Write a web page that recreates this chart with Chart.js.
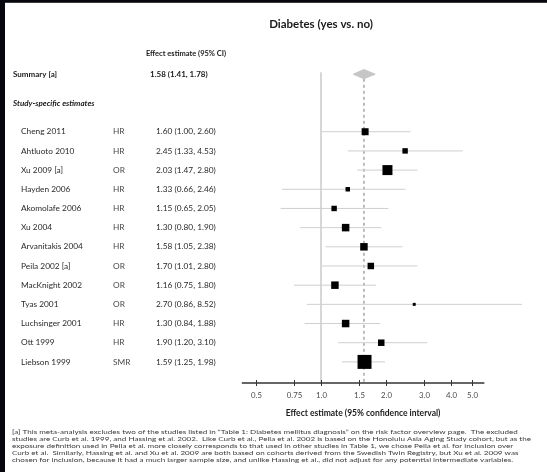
<!DOCTYPE html>
<html>
<head>
<meta charset="utf-8">
<script src="https://cdn.jsdelivr.net/npm/chart.js@4.4.1/dist/chart.umd.min.js"></script>
<style>
  html, body { margin: 0; padding: 0; background: #fff; }
  #forest { display: block; }
</style>
</head>
<body>
<canvas id="forest" width="547" height="472"></canvas>
<script>
// study rows, top to bottom
const studies = ['Cheng 2011', 'Ahtluoto 2010', 'Xu 2009 [a]', 'Hayden 2006', 'Akomolafe 2006', 'Xu 2004',
    'Arvanitakis 2004', 'Peila 2002 [a]', 'MacKnight 2002', 'Tyas 2001', 'Luchsinger 2001', 'Ott 1999', 'Liebson 1999'];
const measures = ['HR', 'HR', 'OR', 'HR', 'HR', 'HR', 'HR', 'OR', 'OR', 'OR', 'HR', 'HR', 'SMR'];
const estimates = [1.60, 2.45, 2.03, 1.33, 1.15, 1.30, 1.58, 1.70, 1.16, 2.70, 1.30, 1.90, 1.59];
const lowerCI = [1.00, 1.33, 1.47, 0.66, 0.65, 0.80, 1.05, 1.01, 0.75, 0.86, 0.84, 1.20, 1.25];
const upperCI = [2.60, 4.53, 2.80, 2.46, 2.05, 1.90, 2.38, 2.80, 1.80, 8.52, 1.88, 3.10, 1.98];
// relative study weights (%)
const weights = [6.6, 4.0, 13.5, 2.7, 4.0, 7.6, 7.6, 5.7, 7.6, 1.2, 7.6, 5.7, 26.4];

const summaryEstimate = 1.58;
const summaryLower = 1.41;
const summaryUpper = 1.78;

const tickValues = [0.5, 0.75, 1.0, 1.5, 2.0, 3.0, 4.0, 5.0];
const tickLabels = ['0.5', '0.75', '1.0', '1.5', '2.0', '3.0', '4.0', '5.0'];
const axisRange = [0.43, 5.7];

const footnote = [
    '[a] This meta-analysis excludes two of the studies listed in \u201cTable 1: Diabetes mellitus diagnosis\u201d on the risk factor overview page.  The excluded',
    'studies are Curb et al. 1999, and Hassing et al. 2002.  Like Curb et al., Peila et al. 2002 is based on the Honolulu Asia Aging Study cohort, but as the',
    'exposure definition used in Peila et al. more closely corresponds to that used in other studies in Table 1, we chose Peila et al. for inclusion over',
    'Curb et al.  Similarly, Hassing et al. and Xu et al. 2009 are both based on cohorts derived from the Swedish Twin Registry, but Xu et al. 2009 was',
    'chosen for inclusion, because it had a much larger sample size, and unlike Hassing et al., did not adjust for any potential intermediate variables.'
];

const SUMMARY_ROW = -3;
const HEADER_ROW = -1.5;
const AXIS_ROW = 13.1;
const FONT = 'Lato, "Open Sans", sans-serif';

function fmt(est, lo, hi) {
    return est.toFixed(2) + ' (' + lo.toFixed(2) + ', ' + hi.toFixed(2) + ')';
}

// CI segments, separated by gaps
const ciData = [];
studies.forEach((s, i) => {
    ciData.push({x: lowerCI[i], y: i}, {x: upperCI[i], y: i}, {x: null, y: null});
});

const pointData = estimates.map((v, i) => ({x: v, y: i}));
const boxRadius = weights.map(w => 2.72 * Math.sqrt(w) / (2 * Math.SQRT1_2));

const frame = {
    id: 'frame',
    beforeDraw(chart) {
        const ctx = chart.ctx;
        ctx.save();
        ctx.fillStyle = '#fff';
        ctx.fillRect(0, 0, chart.width, chart.height);
        ctx.fillStyle = '#06080d';
        ctx.fillRect(0, 0, 5, chart.height);
        ctx.fillRect(0, 0, chart.width, 2);
        ctx.fillStyle = '#3a3a3a';
        ctx.fillRect(5, 2, chart.width - 5, 1);
        ctx.restore();
    }
};

const labels = {
    id: 'labels',
    afterDraw(chart) {
        const ctx = chart.ctx;
        const xs = chart.scales.x;
        const ys = chart.scales.y;
        ctx.save();
        ctx.textBaseline = 'middle';

        ctx.fillStyle = '#1a1a1a';
        ctx.textAlign = 'center';
        ctx.font = 'bold 11.5px ' + FONT;
        ctx.fillText('Diabetes (yes vs. no)', xs.getPixelForValue(1), 24);

        ctx.font = 'bold 7.5px ' + FONT;
        ctx.fillText('Effect estimate (95% CI)', 186, ys.getPixelForValue(-4.05));

        ctx.textAlign = 'left';
        ctx.font = 'bold 8px ' + FONT;
        ctx.fillText('Summary [a]', 13, ys.getPixelForValue(SUMMARY_ROW));
        ctx.fillText(fmt(summaryEstimate, summaryLower, summaryUpper), 150, ys.getPixelForValue(SUMMARY_ROW));
        ctx.font = 'italic bold 8px ' + FONT;
        ctx.fillText('Study-specific estimates', 13, ys.getPixelForValue(HEADER_ROW));

        ctx.font = '8.3px ' + FONT;
        studies.forEach((s, i) => {
            const y = ys.getPixelForValue(i);
            ctx.fillStyle = '#2a2a2a';
            ctx.fillText(s, 21, y);
            ctx.fillStyle = '#4a4a4a';
            ctx.fillText(measures[i], 113, y);
            ctx.fillStyle = '#2a2a2a';
            ctx.fillText(fmt(estimates[i], lowerCI[i], upperCI[i]), 156, y);
        });

        // x axis
        const ay = ys.getPixelForValue(AXIS_ROW);
        const x0 = xs.getPixelForValue(axisRange[0]);
        const x1 = xs.getPixelForValue(axisRange[1]);
        ctx.strokeStyle = '#333';
        ctx.lineWidth = 1.5;
        ctx.beginPath();
        ctx.moveTo(x0, ay);
        ctx.lineTo(x1, ay);
        ctx.stroke();
        ctx.lineWidth = 1;
        ctx.fillStyle = '#4a4a4a';
        ctx.textAlign = 'center';
        ctx.font = '7.8px ' + FONT;
        tickValues.forEach((v, i) => {
            const px = Math.round(xs.getPixelForValue(v)) + 0.5;
            ctx.beginPath();
            ctx.moveTo(px, ay - 3);
            ctx.lineTo(px, ay + 3);
            ctx.stroke();
            ctx.fillText(tickLabels[i], px, ay + 12);
        });
        ctx.fillStyle = '#1a1a1a';
        ctx.font = 'bold 8.5px ' + FONT;
        ctx.fillText('Effect estimate (95% confidence interval)', (x0 + x1) / 2, ay + 30);

        // footnote
        ctx.textAlign = 'left';
        ctx.fillStyle = '#3a3a3a';
        ctx.font = '6.4px ' + FONT;
        const widest = Math.max(...footnote.map(t => ctx.measureText(t).width));
        const sx = 519 / widest;
        footnote.forEach((t, i) => {
            ctx.save();
            ctx.translate(12, 432 + i * 7);
            ctx.scale(sx, 1);
            ctx.fillText(t, 0, 0);
            ctx.restore();
        });
        ctx.restore();
    }
};

new Chart(document.getElementById('forest').getContext('2d'), {
    type: 'scatter',
    data: {
        datasets: [
            {
                label: 'studies',
                data: pointData,
                pointStyle: 'rect',
                pointRadius: boxRadius,
                backgroundColor: '#000',
                borderWidth: 0
            },
            {
                type: 'line',
                label: 'ci',
                data: ciData,
                borderColor: '#cfcfcf',
                borderWidth: 1,
                pointRadius: 0,
                spanGaps: false,
                fill: false
            },
            {
                type: 'line',
                label: 'summary upper',
                data: [{x: summaryLower, y: SUMMARY_ROW}, {x: summaryEstimate, y: SUMMARY_ROW - 0.24}, {x: summaryUpper, y: SUMMARY_ROW}],
                borderColor: '#c6c6c6',
                backgroundColor: '#c6c6c6',
                borderWidth: 1,
                pointRadius: 0,
                tension: 0,
                fill: '+1'
            },
            {
                type: 'line',
                label: 'summary lower',
                data: [{x: summaryLower, y: SUMMARY_ROW}, {x: summaryEstimate, y: SUMMARY_ROW + 0.24}, {x: summaryUpper, y: SUMMARY_ROW}],
                borderColor: '#c6c6c6',
                borderWidth: 1,
                pointRadius: 0,
                tension: 0,
                fill: false
            },
            {
                type: 'line',
                label: 'summary line',
                data: [{x: summaryEstimate, y: SUMMARY_ROW + 0.24}, {x: summaryEstimate, y: AXIS_ROW}],
                borderColor: '#a8a8a8',
                borderWidth: 1.5,
                borderDash: [3, 3],
                pointRadius: 0,
                fill: false
            },
            {
                type: 'line',
                label: 'null line',
                data: [{x: 1, y: SUMMARY_ROW - 0.1}, {x: 1, y: AXIS_ROW}],
                borderColor: '#cacaca',
                borderWidth: 1.5,
                pointRadius: 0,
                fill: false
            }
        ]
    },
    options: {
        responsive: false,
        animation: false,
        devicePixelRatio: 1,
        layout: { padding: { left: 235, right: 6, top: 55, bottom: 89 } },
        scales: {
            x: { type: 'logarithmic', min: 0.4, max: 10, bounds: 'data', display: false },
            y: { type: 'linear', reverse: true, min: -4, max: AXIS_ROW, display: false }
        },
        plugins: {
            legend: { display: false },
            tooltip: { enabled: false }
        }
    },
    plugins: [frame, labels]
});
</script>
</body>
</html>
